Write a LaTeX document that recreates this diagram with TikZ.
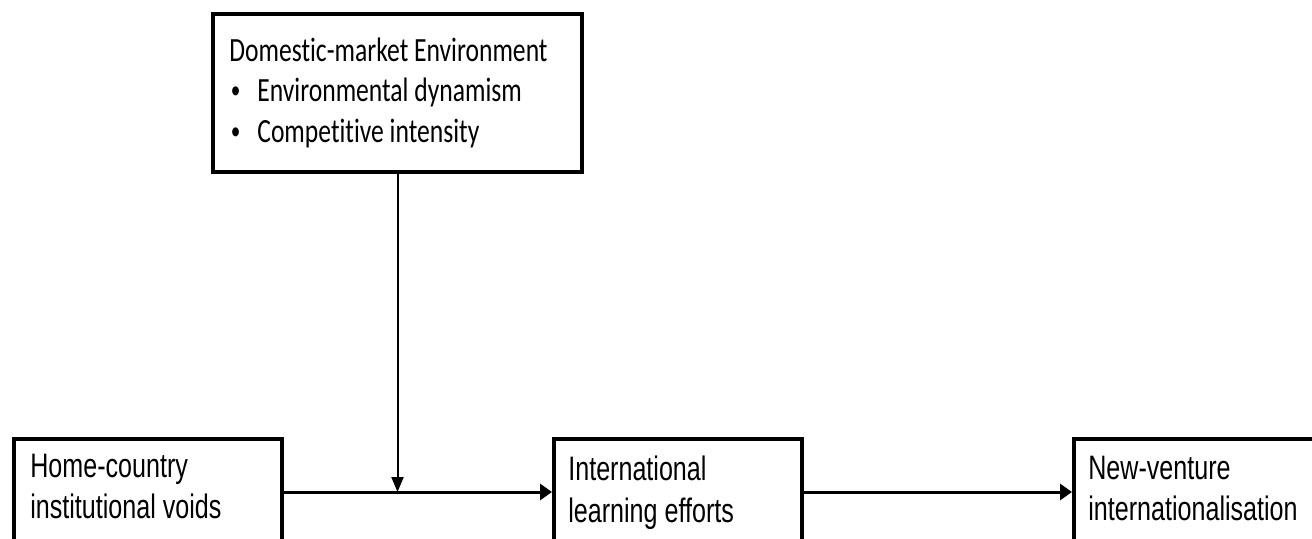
\documentclass[tikz,border=0pt]{standalone}
\usepackage{fontspec}
\setmainfont[FakeStretch=0.74]{Liberation Sans}
\newfontfamily\calfont[FakeStretch=0.755,Ligatures={NoCommon}]{Carlito}
\usetikzlibrary{arrows.meta}

\tikzset{
	varbox/.style={draw,line width=0.08cm,minimum height=2.12cm,anchor=north west,inner sep=0pt},
	vartext/.style={anchor=north west,inner sep=0pt,align=left,font=\fontsize{19.3}{23.5}\selectfont},
	mainarr/.style={line width=0.06cm,-{Triangle[length=0.24cm,width=0.32cm]}},
	modarr/.style={line width=0.04cm,-{Triangle[length=0.3cm,width=0.24cm]}}
}
\newcommand{\bul}{\hspace*{0.03cm}\makebox[0.53cm][l]{\raisebox{0.06cm}{\scalebox{0.75}{\textbullet}}}}

\begin{document}
\begin{tikzpicture}
			\useasboundingbox (0,0) rectangle (26.24,10.76);
			\clip (0,0) rectangle (26.24,10.76);
			
			\node[varbox,minimum width=5.36cm] (hvoid) at (0.24,2.02) {};
			\node[varbox,minimum width=4.96cm] (learn) at (11.04,2.02) {};
			\node[varbox,minimum width=5.6cm] (intl) at (21.44,2.02) {};
			\node[draw,line width=0.08cm,minimum width=7.38cm,minimum height=3.16cm] (dome) at (7.95,8.9) {};
			
			\node[vartext] (hvoid-t) at (0.6,1.68) {Home-country\\institutional voids};
			\node[vartext] (learn-t) at (11.36,1.64) {International\\learning efforts};
			\node[vartext] (intl-t) at (21.76,1.64) {New-venture\\internationalisation};
			\node[vartext,font=\calfont\fontsize{19.3}{22.8}\selectfont] (dome-t) at (4.58,10.0)
				{Domestic-market Environment\\\bul Environmental dynamism\\\bul Competitive intensity};
			
			\coordinate (mod) at (dome.south |- hvoid.east);
			
			\draw[mainarr] (hvoid.east) -- (learn.west);
			\draw[mainarr] (learn.east) -- (intl.west);
			\draw[modarr] (dome.south) -- (mod);
		\end{tikzpicture}
\end{document}
